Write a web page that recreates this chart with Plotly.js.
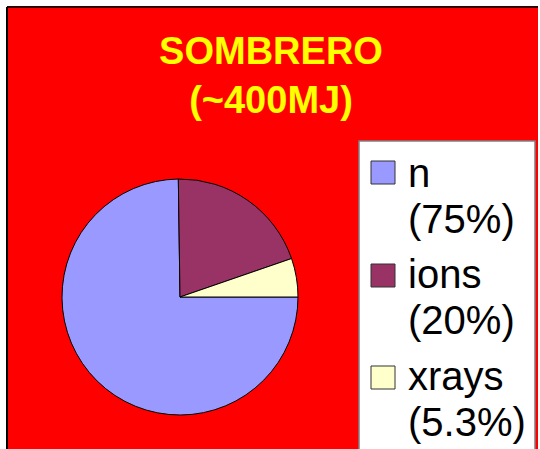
<!DOCTYPE html>
<html>
<head>
<meta charset="utf-8">
<script src="https://cdn.plot.ly/plotly-3.0.1.min.js"></script>
<style>html,body{margin:0;padding:0;background:#fff;}#chart{width:540px;height:449px;}</style>
</head>
<body>
<div id="chart"></div>
<script>
const labels = ['n', 'ions', 'xrays'];
const values = [75, 20, 5.3];
const pctLabels = ['(75%)', '(20%)', '(5.3%)'];
const colors = ['#9999FF', '#993366', '#FFFFCC'];
const titleLines = ['SOMBRERO', '(~400MJ)'];

const W = 540, H = 449;
const px = x => x / W;
const py = y => 1 - y / H;

const trace = {
  type: 'pie',
  labels: labels,
  values: values,
  sort: false,
  direction: 'clockwise',
  rotation: 90,
  textinfo: 'none',
  hoverinfo: 'label+percent',
  marker: {colors: colors, line: {color: '#000000', width: 1}},
  domain: {x: [px(62), px(298)], y: [py(415), py(179)]},
  showlegend: false
};

const shapes = [
  {type: 'rect', xref: 'paper', yref: 'paper', x0: px(7), x1: px(538), y0: -0.1, y1: py(7),
   fillcolor: '#FF0000', line: {width: 0}, layer: 'below'},
  {type: 'line', xref: 'paper', yref: 'paper', x0: px(7), x1: px(538), y0: py(7), y1: py(7),
   line: {color: '#330000', width: 2}, layer: 'below'},
  {type: 'line', xref: 'paper', yref: 'paper', x0: px(7), x1: px(7), y0: -0.1, y1: py(7),
   line: {color: '#000000', width: 2}, layer: 'below'},
  {type: 'rect', xref: 'paper', yref: 'paper', x0: px(359), x1: px(535), y0: -0.1, y1: py(141),
   fillcolor: '#FFFFFF', line: {color: '#808080', width: 1.5}, layer: 'below'}
];

const annotations = [];
const itemTop = [161, 264, 366];
const baseName = [187, 288, 390];
const basePct = [233, 334, 436];
const fs = 40;
const off = 0.35 * fs;
labels.forEach((lab, i) => {
  shapes.push({type: 'rect', xref: 'paper', yref: 'paper', x0: px(371), x1: px(395),
    y0: py(itemTop[i] + 23), y1: py(itemTop[i]), fillcolor: colors[i],
    line: {color: '#333333', width: 1}});
  annotations.push({xref: 'paper', yref: 'paper', x: px(406), y: py(baseName[i] - off),
    xanchor: 'left', yanchor: 'middle', showarrow: false, text: lab,
    font: {family: 'Liberation Sans, Arial, sans-serif', size: fs, color: '#000000'}});
  annotations.push({xref: 'paper', yref: 'paper', x: px(406), y: py(basePct[i] - off),
    xanchor: 'left', yanchor: 'middle', showarrow: false, text: pctLabels[i],
    font: {family: 'Liberation Sans, Arial, sans-serif', size: fs, color: '#000000'}});
});

const layout = {
  width: W, height: H,
  margin: {l: 0, r: 0, t: 0, b: 0},
  paper_bgcolor: '#FFFFFF',
  showlegend: false,
  title: {text: titleLines.map(s => '<b>' + s + '</b>').join('<br>'),
    x: px(271), xanchor: 'center', y: py(64), yanchor: 'top',
    font: {family: 'Liberation Sans, Arial, sans-serif', size: 38, color: '#FFFF00'}},
  shapes: shapes,
  annotations: annotations
};

Plotly.newPlot('chart', [trace], layout, {displayModeBar: false, staticPlot: true});
</script>
</body>
</html>
